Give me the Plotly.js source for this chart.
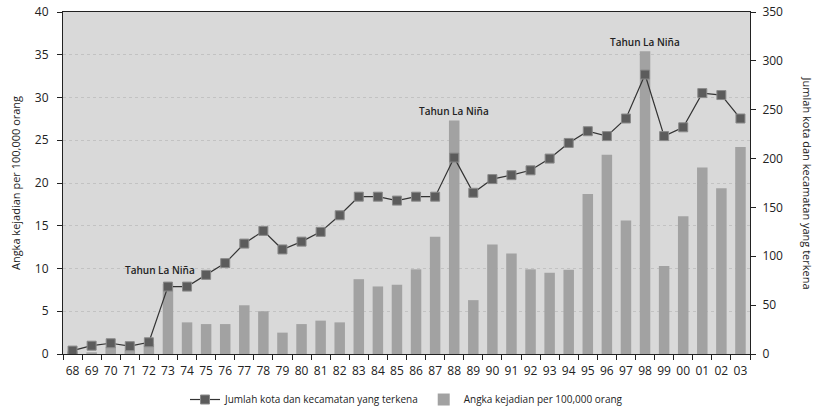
<!DOCTYPE html>
<html>
<head>
<meta charset="utf-8">
<script src="https://cdn.plot.ly/plotly-3.0.1.min.js"></script>
<style>html,body{margin:0;padding:0;background:#fff;}#chart{width:823px;height:414px;}</style>
</head>
<body>
<div id="chart"></div>
<script>
const years = ['68','69','70','71','72','73','74','75','76','77','78','79','80','81','82','83','84','85','86','87','88','89','90','91','92','93','94','95','96','97','98','99','00','01','02','03'];
const incidence = [0.3,0.2,0.8,0.4,1.2,8.2,3.7,3.5,3.5,5.7,5.0,2.5,3.5,3.9,3.7,8.75,7.9,8.1,9.9,13.7,27.3,6.3,12.8,11.75,9.9,9.5,9.85,18.7,23.3,15.6,35.4,10.3,16.1,21.8,19.4,24.2];
const cities = [3.5,8.5,11,8,12,69,69,81,93,113,126,107,115,125,142,161,161,157,161,161,201,165,179,183,188,200,216,228,223,241,286,223,232,267,265,241];
const laNinaYears = ['73','88','98'];
const laNinaLabelY = [9.8,28.4,36.5];
const laNinaLabel = 'Tahun La Niña';

const font = "'Open Sans', 'DejaVu Sans', sans-serif";

const traces = [
  {
    type: 'scatter', mode: 'lines+markers', x: years, y: cities, yaxis: 'y2',
    name: 'Jumlah kota dan kecamatan yang terkena',
    line: {color: '#333333', width: 1.2},
    marker: {symbol: 'square', size: 9, color: '#5c5c5c', line: {color: '#8a8a8a', width: 1}}
  },
  {
    type: 'bar', x: years, y: incidence, yaxis: 'y',
    name: 'Angka kejadian per 100,000 orang',
    width: 0.55,
    marker: {color: '#a2a2a2', line: {width: 0}}
  }
];

const annotations = laNinaYears.map((yr, i) => ({
  x: years.indexOf(yr), y: laNinaLabelY[i], xref: 'x', yref: 'y', text: laNinaLabel, showarrow: false,
  xshift: i === 0 ? -8 : 0,
  font: {family: font, size: 10, color: '#222', weight: 600}
}));
annotations.push({
  xref: 'paper', yref: 'paper', x: 1.085, y: 0.5, xanchor: 'center', yanchor: 'middle',
  text: 'Jumlah kota dan kecamatan yang terkena', textangle: 90, showarrow: false,
  font: {family: font, size: 11, color: '#222'}
});

const layout = {
  width: 823, height: 414,
  margin: {l: 63, r: 73, t: 12, b: 60, autoexpand: false},
  paper_bgcolor: '#ffffff', plot_bgcolor: '#d9d9d9',
  font: {family: font, size: 12, color: '#222'},
  showlegend: true,
  legend: {orientation: 'h', xref: 'paper', x: 0.5, xanchor: 'center', yref: 'container', y: 0.035, yanchor: 'middle',
           font: {family: font, size: 10, color: '#222'}, bgcolor: 'rgba(0,0,0,0)', traceorder: 'normal'},
  xaxis: {
    type: 'category', range: [-0.5, years.length - 0.5], autorange: false,
    tickson: 'boundaries', ticks: 'outside', ticklen: 5, tickcolor: '#222', tickangle: 0,
    ticklabelstandoff: 6,
    showline: true, linecolor: '#222', linewidth: 1, mirror: true, showgrid: false,
    tickfont: {family: font, size: 12, color: '#222'}
  },
  yaxis: {
    range: [0, 40], dtick: 5, ticks: 'outside', ticklen: 5, tickcolor: '#222',
    ticklabelstandoff: 6,
    showline: true, linecolor: '#222', linewidth: 1, zeroline: false,
    gridcolor: '#c2c2c2', griddash: 'dot', gridwidth: 1,
    title: {text: 'Angka kejadian per 100,000 orang', font: {family: font, size: 11, color: '#222'}, standoff: 12},
    tickfont: {family: font, size: 12, color: '#222'}
  },
  yaxis2: {
    range: [0, 350], dtick: 50, overlaying: 'y', side: 'right', ticks: 'outside', ticklen: 5, tickcolor: '#222',
    ticklabelstandoff: 4,
    showline: true, linecolor: '#222', linewidth: 1, showgrid: false, zeroline: false,
    tickfont: {family: font, size: 12, color: '#222'}
  },
  annotations: annotations
};

Plotly.newPlot('chart', traces, layout, {displayModeBar: false, staticPlot: true});
</script>
</body>
</html>
